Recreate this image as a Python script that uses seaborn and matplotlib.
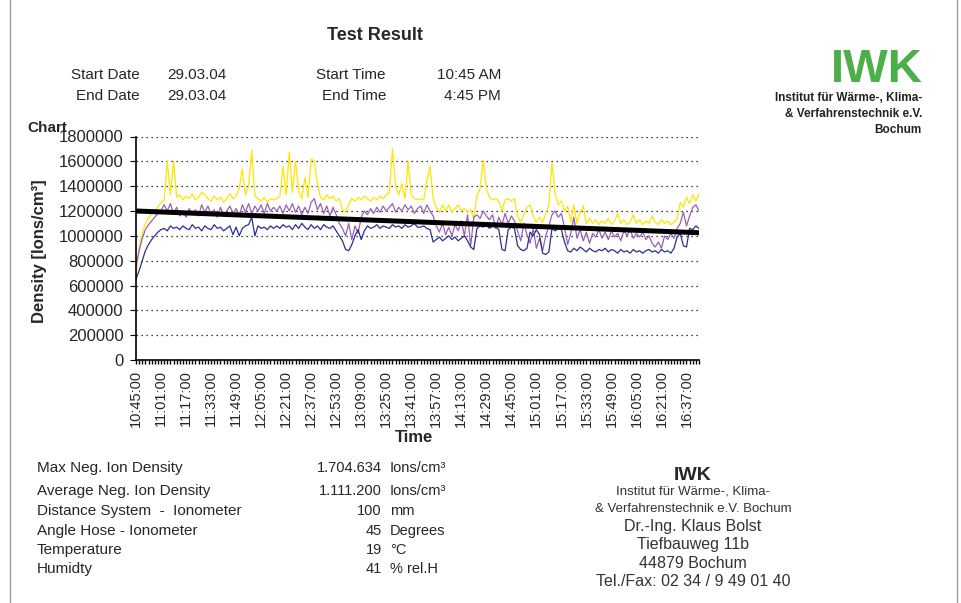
"""Ion density test report: three sensor traces plus trend line."""

import matplotlib

matplotlib.use("Agg")
import matplotlib.pyplot as plt
from matplotlib.lines import Line2D
from matplotlib.ticker import FuncFormatter, MultipleLocator
import numpy as np
import pandas as pd
import seaborn as sns

# ---------------------------------------------------------------------------
# Data (densities in thousands of Ions/cm³, one reading every 2 minutes
# from 10:45 to 16:45)
# ---------------------------------------------------------------------------
START_MIN = 10 * 60 + 45
STEP_MIN = 2

yellow_k = [
    680, 900, 1020, 1100, 1150, 1180, 1200, 1230, 1270, 1290,
    1600, 1330, 1600, 1310, 1330, 1290, 1320, 1300, 1340, 1290,
    1310, 1350, 1330, 1300, 1280, 1320, 1290, 1310, 1270, 1300,
    1340, 1300, 1320, 1380, 1540, 1330, 1400, 1690, 1320, 1300,
    1280, 1310, 1270, 1300, 1290, 1300, 1320, 1560, 1330, 1670,
    1350, 1600, 1360, 1300, 1470, 1310, 1620, 1600, 1420, 1310,
    1290, 1330, 1300, 1320, 1280, 1300, 1210, 1190, 1250, 1300,
    1280, 1310, 1290, 1320, 1300, 1280, 1310, 1290, 1320, 1300,
    1330, 1350, 1700, 1400, 1330, 1420, 1300, 1600, 1330, 1300,
    1290, 1300, 1290, 1450, 1560, 1300, 1230, 1190, 1250, 1200,
    1250, 1190, 1220, 1250, 1200, 1220, 1190, 1210, 1140, 1320,
    1380, 1610, 1380, 1310, 1290, 1300, 1280, 1200, 1290, 1300,
    1280, 1300, 1160, 1110, 1170, 1230, 1250, 1160, 1110, 1150,
    1110, 1180, 1250, 1590, 1340, 1250, 1280, 1200, 1240, 1110,
    1250, 1100, 1190, 1240, 1100, 1140, 1100, 1130, 1090, 1120,
    1100, 1140, 1090, 1120, 1180, 1100, 1130, 1090, 1110, 1170,
    1100, 1130, 1090, 1120, 1100, 1160, 1110, 1090, 1130, 1100,
    1120, 1090, 1110, 1140, 1270, 1230, 1310, 1260, 1330, 1280,
    1340,
]

purple_k = [
    760, 880, 980, 1050, 1090, 1120, 1150, 1180, 1200, 1250,
    1200, 1260, 1180, 1230, 1160, 1200, 1150, 1220, 1170, 1210,
    1160, 1250, 1190, 1240, 1170, 1210, 1150, 1230, 1160, 1200,
    1240, 1180, 1220, 1160, 1250, 1190, 1260, 1180, 1240, 1200,
    1250, 1180, 1260, 1200, 1230, 1200, 1240, 1180, 1250, 1200,
    1260, 1190, 1240, 1170, 1230, 1180, 1270, 1300, 1210, 1260,
    1180, 1240, 1160, 1230, 1170, 1100, 1060, 1000, 1100, 970,
    1080, 1020, 1150, 1200, 1170, 1220, 1180, 1230, 1190, 1240,
    1200, 1230, 1260, 1190, 1230, 1200, 1250, 1210, 1240, 1180,
    1220, 1240, 1180, 1250, 1200, 1160, 1080, 1030, 1100, 1010,
    1070, 1000, 1090, 1040, 1120, 1000, 1170, 920, 1150, 1170,
    1140, 1200, 1160, 1130, 1170, 1060, 1150, 1090, 1180, 1100,
    1160, 1120, 1040, 960, 1100, 1010, 940, 1060, 900, 980,
    880, 1000, 1080, 1170, 1200, 1150, 1180, 1070, 930, 1020,
    1150, 980, 1050, 960, 1030, 940, 1020, 990, 1050, 980,
    1030, 970, 1040, 990, 1020, 960, 1040, 1000, 1050, 980,
    1020, 990, 1030, 970, 1000, 940, 910, 950, 900, 1000,
    970, 1020, 980, 1060, 1100, 1190, 1080, 1160, 1230, 1250,
    1200,
]

navy_k = [
    650, 720, 800, 880, 930, 970, 1000, 1030, 1050, 1060,
    1040, 1080, 1060, 1070, 1050, 1080, 1060, 1050, 1090, 1060,
    1070, 1040, 1080, 1060, 1050, 1090, 1060, 1070, 1040, 1060,
    1080, 1010, 1070, 1000, 1060, 1080, 1090, 1150, 1000, 1080,
    1060, 1070, 1050, 1080, 1060, 1080, 1060, 1090, 1070, 1080,
    1050, 1090, 1060, 1100, 1070, 1050, 1090, 1060, 1080, 1050,
    1090, 1070, 1060, 1080, 1040, 1000, 960, 890, 880, 930,
    1000, 1050, 970, 1040, 1080, 1060, 1070, 1090, 1060, 1080,
    1070, 1060, 1090, 1070, 1080, 1060, 1090, 1070, 1080, 1100,
    1070, 1070, 1080, 1060, 1050, 950, 970, 990, 960, 980,
    1000, 970, 990, 960, 980, 1000, 960, 910, 890, 1060,
    1080, 1070, 1090, 1060, 1080, 1070, 1050, 890, 880, 1050,
    1070, 1060, 920, 890, 880, 900, 1030, 1000, 1050, 1010,
    860, 850, 870, 1060, 1040, 1060, 1050, 950, 880, 870,
    900, 880, 910, 890, 870, 900, 880, 870, 890, 880,
    900, 870, 890, 880, 860, 890, 870, 880, 860, 890,
    870, 880, 860, 880, 890, 870, 880, 860, 890, 870,
    880, 860, 900, 990, 1020, 920, 910, 1060, 1050, 1080,
    1060,
]

# trend line end points (minutes from start, density)
trend_minutes = [0, 360]
trend_values = [1200000, 1025000]

SERIES_COLORS = {"yellow": "#ffe500", "purple": "#9a5fb5", "navy": "#2b2f8f"}

info_labels = [
    "Max Neg. Ion Density",
    "Average Neg. Ion Density",
    "Distance System  -  Ionometer",
    "Angle Hose - Ionometer",
    "Temperature",
    "Humidty",
]
info_values = ["1.704.634", "1.111.200", "100", "45", "19", "41"]
info_units = ["Ions/cm³", "Ions/cm³", "mm", "Degrees", "°C", "% rel.H"]

stamp_lines = [
    "Institut für Wärme-, Klima-",
    "& Verfahrenstechnik e.V. Bochum",
    "Dr.-Ing. Klaus Bolst",
    "Tiefbauweg 11b",
    "44879 Bochum",
    "Tel./Fax: 02 34 / 9 49 01 40",
]

W, H = 962, 603


def px(x, y):
    """Pixel position (from top-left) -> figure fraction."""
    return x / W, 1 - y / H


def build_frame() -> pd.DataFrame:
    frames = []
    for name, vals in (("yellow", yellow_k), ("purple", purple_k), ("navy", navy_k)):
        frames.append(
            pd.DataFrame(
                {
                    "minute": np.arange(len(vals)) * STEP_MIN,
                    "density": np.asarray(vals) * 1000,
                    "series": name,
                }
            )
        )
    return pd.concat(frames, ignore_index=True)


def clock(m, _pos=None):
    t = START_MIN + int(round(m))
    return f"{t // 60}:{t % 60:02d}:00"


def main():
    sns.set_style("white")
    plt.rcParams["font.family"] = ["Liberation Sans", "DejaVu Sans"]

    fig = plt.figure(figsize=(W / 100, H / 100), dpi=100)
    x0, y0 = px(136, 360)
    x1, y1 = px(699, 136.5)
    ax = fig.add_axes([x0, y0, x1 - x0, y1 - y0])

    df = build_frame()
    sns.lineplot(
        data=df, x="minute", y="density", hue="series",
        hue_order=["yellow", "purple", "navy"], palette=SERIES_COLORS,
        linewidth=0.9, legend=False, estimator=None, sort=False, ax=ax,
    )
    sns.lineplot(x=trend_minutes, y=trend_values, color="black",
                 linewidth=3.6, ax=ax)

    ax.set_xlim(0, 360)
    ax.set_ylim(0, 1800000)
    ax.yaxis.set_major_locator(MultipleLocator(200000))
    ax.yaxis.set_major_formatter(FuncFormatter(lambda v, p: f"{v:.0f}"))
    ax.xaxis.set_major_locator(MultipleLocator(16))
    ax.xaxis.set_minor_locator(MultipleLocator(2))
    ax.xaxis.set_major_formatter(FuncFormatter(clock))

    ax.grid(axis="y", which="major", color="black", linestyle=(0, (1, 3)),
            linewidth=0.9)
    for side in ("top", "right"):
        ax.spines[side].set_visible(False)
    for side in ("left", "bottom"):
        ax.spines[side].set_color("black")
        ax.spines[side].set_linewidth(1.2)

    ax.tick_params(axis="y", which="major", direction="out", length=4,
                   width=0.8, color="black", labelsize=12, pad=5, left=True)
    ax.tick_params(axis="x", which="both", direction="out", length=3,
                   width=1.0, color="black", bottom=True)
    ax.tick_params(axis="x", which="major", labelsize=10.5, pad=4,
                   labelrotation=90)
    ax.set_xlabel("")
    ax.set_ylabel("")

    # axis titles
    fig.text(*px(414, 437), "Time", ha="center", va="center",
             fontsize=12, fontweight="bold")
    fig.text(*px(40, 251), "Density [Ions/cm³]", ha="center", va="center",
             rotation=90, fontsize=12, fontweight="bold")
    fig.text(*px(27, 128), "Chart", ha="left", va="center",
             fontsize=11, fontweight="bold")

    # header
    fig.text(*px(375, 35), "Test Result", ha="center", va="center",
             fontsize=13, fontweight="bold")
    for y, (lab, date, tlab, tval) in zip(
        (75, 96),
        (("Start Date", "29.03.04", "Start Time", "10:45 AM"),
         ("End Date", "29.03.04", "End Time", "4:45 PM")),
    ):
        fig.text(*px(140, y), lab, ha="right", va="center", fontsize=11)
        fig.text(*px(167, y), date, ha="left", va="center", fontsize=11)
        fig.text(*px(386, y), tlab, ha="right", va="center", fontsize=11)
        fig.text(*px(501, y), tval, ha="right", va="center", fontsize=11)

    # logo
    fig.text(*px(923, 82), "IWK", ha="right", va="baseline", fontsize=34,
             fontweight="bold", color="#4caf4a")
    for y, line in zip((98, 114, 130),
                       ("Institut für Wärme-, Klima-",
                        "& Verfahrenstechnik e.V.", "Bochum")):
        fig.text(*px(922, y), line, ha="right", va="center", fontsize=8.5,
                 fontweight="bold", color="#222222")

    # measurement details
    for y, lab, val, unit in zip((468, 491, 511, 531, 550, 569),
                                 info_labels, info_values, info_units):
        fig.text(*px(37, y), lab, ha="left", va="center", fontsize=11)
        fig.text(*px(382, y), val, ha="right", va="center", fontsize=10.5)
        fig.text(*px(390, y), unit, ha="left", va="center", fontsize=10.5)

    # stamp
    fig.text(*px(693, 475), "IWK", ha="center", va="center", fontsize=14,
             fontweight="bold")
    for y, line, size in zip((492, 509, 527, 545, 563, 581), stamp_lines,
                             (9.5, 9.5, 11.5, 11.5, 11.5, 11.5)):
        fig.text(*px(693, y), line, ha="center", va="center", fontsize=size,
                 color="#333333")

    # page edges
    for xe in (10, 957):
        fig.add_artist(Line2D([xe / W, xe / W], [0, 1], color="#9a9a9a",
                              linewidth=1.0, transform=fig.transFigure))

    fig.savefig("out.png", dpi=100)
    plt.close(fig)


if __name__ == "__main__":
    main()
